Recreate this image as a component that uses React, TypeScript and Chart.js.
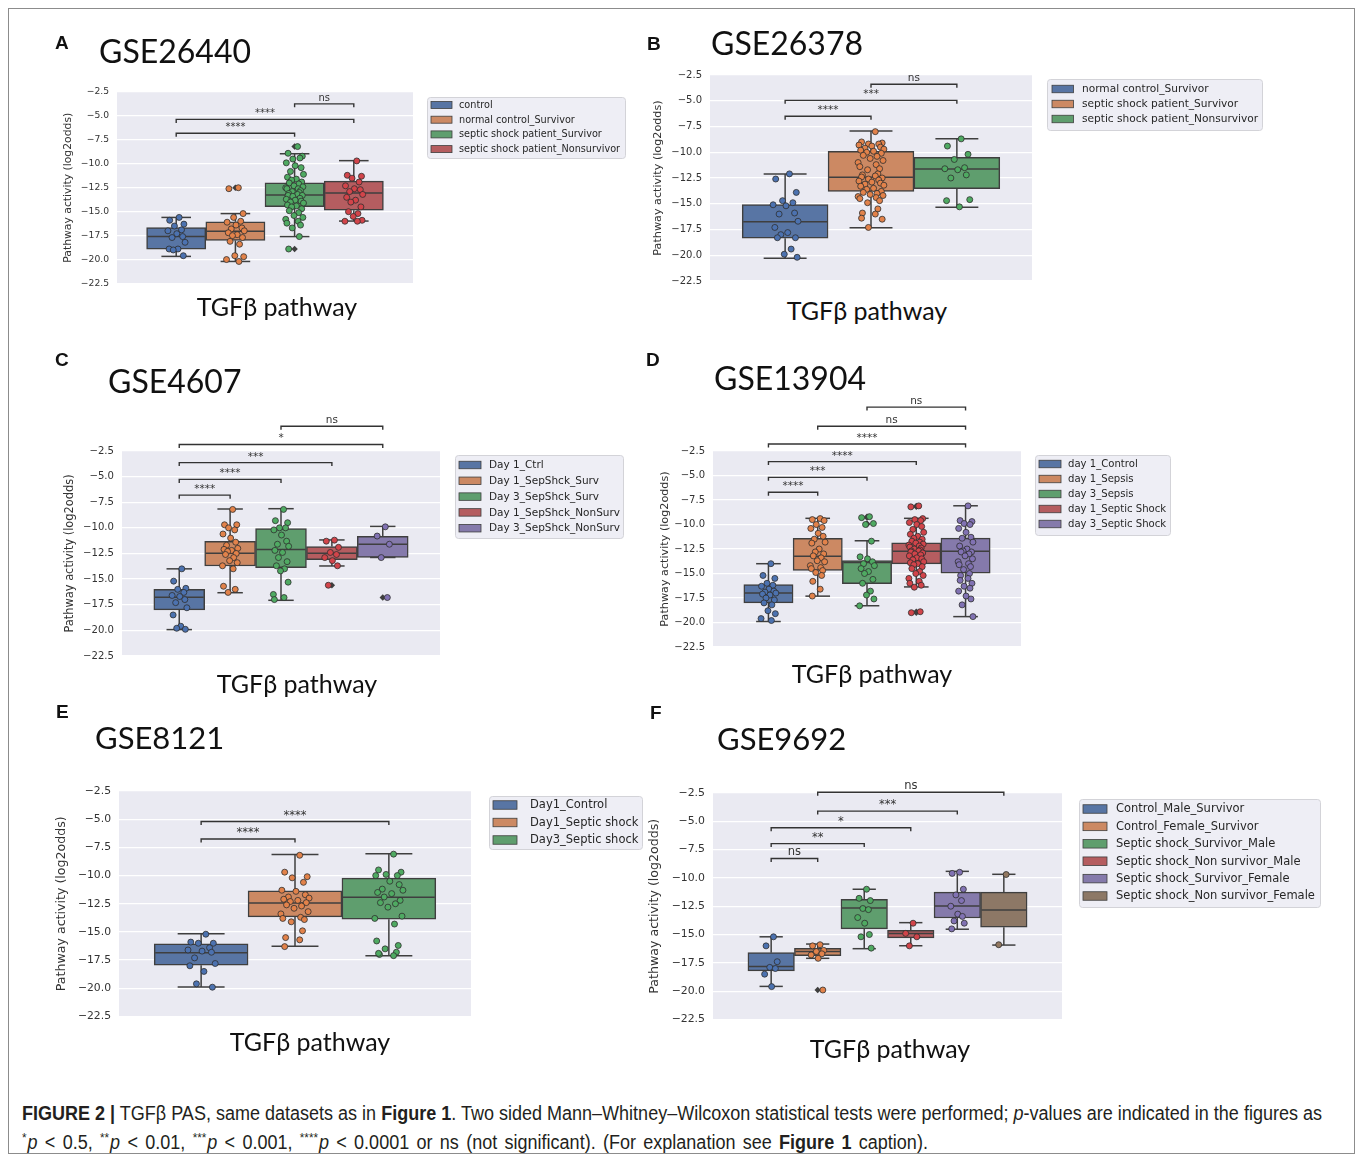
import React, { useEffect, useLayoutEffect, useRef } from "react";
import { Chart, registerables } from "chart.js";

Chart.register(...registerables);

const EDGE = "#3f3f3f";
const BOX_COLORS = ["#5875A4", "#CC8963", "#5F9E6E", "#B55D60", "#857AAB", "#8D7866"];
const POINT_COLORS = ["#4C72B0", "#E2824A", "#4FAA62", "#D2444A", "#8172B3", "#937860"];
const JITTER = [0.05, -0.11, 0.13, -0.03, 0.09, -0.14, 0.01, 0.11, -0.07, 0.15, -0.12, 0.03, -0.05, 0.12, -0.09, 0.07, -0.01, 0.14, -0.15, 0.06, -0.13, 0.1, -0.04, 0.08, -0.1];

const Y_MIN = -22.5;
const Y_MAX = -2.5;
const Y_STEP = 2.5;
const Y_TITLE = "Pathway activity (log2odds)";
const X_TITLE = "TGFβ pathway";

// ---------------- Panel A : GSE26440 ----------------
const A_GROUPS = ["control", "normal control_Survivor", "septic shock patient_Survivor", "septic shock patient_Nonsurvivor"];
const A_Q1 = [-18.91, -18.0, -14.47, -14.84];
const A_MED = [-17.6, -17.05, -13.26, -13.05];
const A_Q3 = [-16.67, -16.05, -11.98, -11.81];
const A_WLO = [-19.67, -20.2, -17.6, -15.98];
const A_WHI = [-15.6, -15.2, -8.95, -9.67];
const A_POINTS = [
  [-15.6, -15.9, -16.3, -16.5, -16.9, -17.0, -17.3, -17.6, -17.7, -18.2, -18.9, -18.9, -19.0, -19.6],
  [-12.5, -12.6, -15.2, -15.6, -16.0, -16.1, -16.4, -16.7, -16.8, -17.0, -17.2, -17.4, -17.5, -17.7, -18.1, -18.4, -19.6, -19.7, -20.0, -20.2],
  [-8.2, -8.9, -9.2, -9.5, -9.4, -9.9, -10.2, -10.4, -10.8, -11.1, -11.4, -11.6, -11.7, -11.9, -12.0, -12.1, -12.3, -12.4, -12.5, -12.6, -12.6, -12.8, -12.9, -13.0, -13.1, -13.2, -13.3, -13.3, -13.4, -13.6, -13.7, -13.8, -13.9, -14.0, -14.1, -14.3, -14.4, -14.5, -14.7, -14.9, -15.1, -15.4, -15.6, -15.8, -16.0, -16.2, -16.4, -16.7, -17.6, -18.9],
  [-9.7, -11.2, -11.3, -11.5, -11.9, -12.3, -12.6, -12.7, -12.9, -13.2, -13.5, -13.8, -14.0, -14.5, -15.0, -15.2, -15.5, -15.9, -16.0, -16.0],
];
const A_FLIERS = [[], [-12.5], [-8.2, -18.9], []];
const A_SIG: [number, number, number, string][] = [[0, 2, -6.81, "****"], [0, 3, -5.36, "****"], [2, 3, -3.74, "ns"]];

// ---------------- Panel B : GSE26378 ----------------
const B_GROUPS = ["normal control_Survivor", "septic shock patient_Survivor", "septic shock patient_Nonsurvivor"];
const B_Q1 = [-18.34, -13.8, -13.54];
const B_MED = [-16.74, -12.42, -11.62];
const B_Q3 = [-15.08, -9.92, -10.5];
const B_WLO = [-20.29, -17.32, -15.33];
const B_WHI = [-12.1, -7.94, -8.68];
const B_POINTS = [
  [-12.1, -12.6, -13.9, -14.7, -14.9, -15.1, -15.2, -15.9, -16.0, -16.7, -17.3, -17.8, -18.0, -18.3, -18.3, -19.4, -19.9, -20.2],
  [-8.0, -9.0, -9.1, -9.2, -9.2, -9.3, -9.4, -9.5, -9.6, -9.7, -9.8, -9.9, -10.0, -10.1, -10.3, -10.4, -10.6, -10.8, -11.0, -11.2, -11.4, -11.6, -11.7, -12.1, -12.2, -12.3, -12.4, -12.5, -12.6, -12.7, -12.8, -12.9, -13.0, -13.1, -13.2, -13.3, -13.5, -13.6, -13.8, -13.9, -14.0, -14.1, -14.2, -14.3, -14.4, -14.5, -14.7, -14.9, -15.5, -15.9, -16.0, -16.4, -16.5, -17.3],
  [-8.7, -9.4, -10.2, -10.7, -11.5, -11.6, -11.7, -12.2, -12.5, -14.6, -14.7, -15.3],
];
const B_FLIERS = [[], [], []];
const B_SIG: [number, number, number, string][] = [[0, 1, -6.5, "****"], [0, 2, -4.96, "***"], [1, 2, -3.4, "ns"]];

// ---------------- Panel C : GSE4607 ----------------
const C_GROUPS = ["Day 1_Ctrl", "Day 1_SepShck_Surv", "Day 3_SepShck_Surv", "Day 1_SepShck_NonSurv", "Day 3_SepShck_NonSurv"];
const C_Q1 = [-18.0, -13.72, -13.88, -13.11, -12.89];
const C_MED = [-16.78, -12.47, -12.11, -12.47, -11.6];
const C_Q3 = [-16.0, -11.31, -10.06, -11.83, -10.83];
const C_WLO = [-19.93, -16.33, -17.07, -13.72, -12.89];
const C_WHI = [-14.0, -8.16, -8.13, -11.18, -9.86];
const C_POINTS = [
  [-14.0, -15.2, -15.9, -16.0, -16.3, -16.6, -16.7, -17.0, -17.3, -17.8, -18.5, -19.6, -19.8, -19.9],
  [-8.2, -9.7, -9.7, -10.0, -10.2, -10.6, -11.0, -11.4, -11.7, -12.0, -12.1, -12.2, -12.3, -12.5, -12.6, -12.9, -13.2, -13.4, -13.7, -14.0, -15.7, -16.0, -16.3],
  [-8.2, -9.3, -9.5, -10.0, -10.0, -10.2, -10.7, -11.3, -11.6, -11.8, -12.2, -12.4, -12.9, -13.3, -13.7, -14.0, -14.2, -15.3, -16.5, -16.8, -17.0],
  [-11.2, -11.3, -11.9, -12.4, -12.6, -12.9, -13.2, -13.7, -15.6],
  [-9.9, -10.8, -11.6, -12.9, -16.8],
];
const C_FLIERS = [[], [], [], [-15.6], [-16.8]];
const C_SIG: [number, number, number, string][] = [[0, 1, -6.81, "****"], [0, 2, -5.27, "****"], [0, 3, -3.63, "***"], [0, 4, -1.86, "*"], [2, 4, -0.09, "ns"]];

// ---------------- Panel D : GSE13904 ----------------
const D_GROUPS = ["day 1_Control", "day 1_Sepsis", "day 3_Sepsis", "day 1_Septic Shock", "day 3_Septic Shock"];
const D_Q1 = [-17.99, -14.69, -16.04, -14.02, -14.96];
const D_MED = [-16.98, -13.24, -13.88, -12.74, -12.74];
const D_Q3 = [-16.14, -11.42, -13.68, -11.86, -11.39];
const D_WLO = [-19.9, -17.31, -18.29, -16.37, -19.4];
const D_WHI = [-14.0, -9.37, -11.66, -9.37, -8.09];
const D_POINTS = [
  [-14.0, -15.2, -15.5, -16.0, -16.2, -16.3, -16.6, -16.8, -16.9, -17.0, -17.1, -17.2, -17.5, -17.7, -18.0, -18.2, -18.8, -19.1, -19.6, -19.8],
  [-9.4, -9.5, -9.6, -10.0, -10.3, -10.4, -10.9, -11.2, -11.5, -11.8, -11.9, -12.5, -12.8, -13.0, -13.2, -13.4, -13.7, -13.8, -14.2, -14.4, -14.5, -14.7, -14.9, -15.2, -15.8, -16.6, -17.3],
  [-9.2, -9.3, -9.9, -10.0, -11.7, -13.3, -13.5, -13.8, -14.0, -14.2, -14.5, -14.8, -15.0, -15.6, -16.0, -16.8, -17.2, -17.6, -18.3],
  [-8.1, -8.2, -9.4, -9.5, -9.6, -9.8, -10.0, -10.2, -10.5, -10.8, -11.0, -11.2, -11.4, -11.5, -11.7, -11.8, -11.9, -12.0, -12.1, -12.2, -12.3, -12.4, -12.5, -12.6, -12.7, -12.7, -12.8, -12.9, -13.0, -13.1, -13.2, -13.4, -13.5, -13.6, -13.8, -13.9, -14.0, -14.1, -14.3, -14.5, -14.8, -15.0, -15.2, -15.5, -15.8, -16.0, -16.2, -16.4, -18.9, -19.0],
  [-8.1, -9.6, -9.7, -9.9, -10.0, -10.4, -10.8, -11.3, -11.4, -11.8, -12.2, -12.5, -12.7, -12.8, -12.8, -13.0, -13.2, -13.5, -13.8, -14.0, -14.1, -14.3, -14.6, -15.0, -15.2, -15.5, -15.7, -16.0, -16.3, -16.5, -16.8, -17.3, -17.6, -18.2, -19.4],
];
const D_FLIERS = [[], [], [-9.2, -9.3, -9.9, -10.0], [-8.1, -8.2, -18.9, -19.0], []];
const D_SIG: [number, number, number, string][] = [[0, 1, -6.71, "****"], [0, 2, -5.19, "***"], [0, 3, -3.58, "****"], [0, 4, -1.79, "****"], [1, 4, 0.03, "ns"], [2, 4, 1.98, "ns"]];

// ---------------- Panel E : GSE8121 ----------------
const E_GROUPS = ["Day1_Control", "Day1_Septic shock", "Day3_Septic shock"];
const E_Q1 = [-17.95, -13.67, -13.87];
const E_MED = [-16.84, -12.44, -11.92];
const E_Q3 = [-16.06, -11.36, -10.23];
const E_WLO = [-19.88, -16.26, -17.1];
const E_WHI = [-15.15, -8.13, -8.07];
const E_POINTS = [
  [-15.2, -15.9, -16.0, -16.0, -16.4, -16.6, -16.7, -16.8, -17.3, -17.8, -18.0, -18.5, -19.6, -19.9],
  [-8.2, -9.7, -10.1, -10.2, -10.6, -11.3, -11.4, -11.7, -11.9, -12.0, -12.1, -12.2, -12.3, -12.4, -12.6, -12.7, -12.9, -13.2, -13.4, -13.7, -13.8, -13.9, -14.1, -14.9, -15.5, -15.7, -16.3],
  [-8.1, -9.5, -9.7, -9.9, -10.0, -10.0, -10.5, -10.8, -11.2, -11.3, -11.5, -11.6, -11.9, -12.2, -12.4, -12.5, -12.8, -13.6, -13.8, -14.3, -15.8, -16.2, -16.5, -16.8, -17.0, -17.1, -16.9],
];
const E_FLIERS = [[], [], []];
const E_SIG: [number, number, number, string][] = [[0, 1, -6.76, "****"], [0, 2, -5.21, "****"]];

// ---------------- Panel F : GSE9692 ----------------
const F_GROUPS = ["Control_Male_Survivor", "Control_Female_Survivor", "Septic shock_Survivor_Male", "Septic shock_Non survivor_Male", "Septic shock_Survivor_Female", "Septic shock_Non survivor_Female"];
const F_Q1 = [-18.21, -16.86, -14.5, -15.29, -13.54, -14.35];
const F_MED = [-17.83, -16.5, -12.66, -14.91, -12.49, -12.84];
const F_Q3 = [-16.6, -16.22, -11.9, -14.62, -11.26, -11.26];
const F_WLO = [-19.58, -17.1, -16.25, -15.99, -14.53, -15.93];
const F_WHI = [-15.2, -15.84, -11.0, -13.95, -9.42, -9.68];
const F_POINTS = [
  [-15.2, -16.0, -17.4, -17.9, -18.0, -18.5, -19.6],
  [-15.9, -16.0, -16.4, -16.5, -16.7, -16.8, -17.1, -19.9],
  [-11.0, -11.8, -12.0, -12.7, -12.8, -13.5, -14.0, -15.0, -15.2, -16.2],
  [-14.0, -14.9, -15.2, -16.0],
  [-9.5, -9.6, -11.0, -11.5, -12.0, -12.5, -13.2, -13.4, -13.8, -14.0, -14.5],
  [-9.7, -15.9],
];
const F_FLIERS = [[], [-19.9], [], [], [], []];
const F_SIG: [number, number, number, string][] = [[0, 1, -8.28, "ns"], [0, 2, -6.97, "**"], [0, 3, -5.57, "*"], [1, 4, -4.1, "***"], [1, 5, -2.44, "ns"]];

type Rect = { l: number; t: number; r: number; b: number };
type Legend = Rect & { row0: number; step: number; patchX: number; patchW: number; patchH: number; textX: number; size: number };
type Panel = {
  letter: string; letterX: number; letterY: number;
  gse: string; gseX: number; gseCap: number; gseSize: number;
  xlabCx: number; xlabCap: number;
  groups: string[]; q1: number[]; med: number[]; q3: number[]; wlo: number[]; whi: number[];
  points: number[][]; fliers: number[][]; sig: [number, number, number, string][];
  plot: Rect; yTitleX: number; tickSize: number; titleSize: number; sigSize: number; legend: Legend;
};

const PANELS: Panel[] = [
  {
    letter: "A", letterX: 55, letterY: 35, gse: "GSE26440", gseX: 99, gseCap: 40, gseSize: 32, xlabCx: 277, xlabCap: 298,
    groups: A_GROUPS, q1: A_Q1, med: A_MED, q3: A_Q3, wlo: A_WLO, whi: A_WHI, points: A_POINTS, fliers: A_FLIERS, sig: A_SIG,
    plot: { l: 117, t: 92, r: 413, b: 285 }, yTitleX: 68, tickSize: 9.2, titleSize: 10.8, sigSize: 10,
    legend: { l: 427, t: 97, r: 625, b: 158, row0: 105, step: 14.7, patchX: 431, patchW: 21, patchH: 7, textX: 459, size: 9.7 },
  },
  {
    letter: "B", letterX: 647, letterY: 36, gse: "GSE26378", gseX: 711, gseCap: 32, gseSize: 32, xlabCx: 867, xlabCap: 302,
    groups: B_GROUPS, q1: B_Q1, med: B_MED, q3: B_Q3, wlo: B_WLO, whi: B_WHI, points: B_POINTS, fliers: B_FLIERS, sig: B_SIG,
    plot: { l: 710, t: 75, r: 1032, b: 283 }, yTitleX: 658, tickSize: 10, titleSize: 11.2, sigSize: 10.5,
    legend: { l: 1047, t: 79, r: 1262, b: 130, row0: 89, step: 15, patchX: 1052, patchW: 21.5, patchH: 7.5, textX: 1082, size: 10.6 },
  },
  {
    letter: "C", letterX: 55, letterY: 352, gse: "GSE4607", gseX: 108, gseCap: 370, gseSize: 32, xlabCx: 297, xlabCap: 675,
    groups: C_GROUPS, q1: C_Q1, med: C_MED, q3: C_Q3, wlo: C_WLO, whi: C_WHI, points: C_POINTS, fliers: C_FLIERS, sig: C_SIG,
    plot: { l: 122, t: 451, r: 440, b: 658 }, yTitleX: 70, tickSize: 10.1, titleSize: 11.4, sigSize: 10.5,
    legend: { l: 455, t: 455, r: 623, b: 538, row0: 465, step: 15.8, patchX: 459, patchW: 22, patchH: 7.5, textX: 489, size: 10.5 },
  },
  {
    letter: "D", letterX: 646, letterY: 352, gse: "GSE13904", gseX: 714, gseCap: 367, gseSize: 32, xlabCx: 872, xlabCap: 665,
    groups: D_GROUPS, q1: D_Q1, med: D_MED, q3: D_Q3, wlo: D_WLO, whi: D_WHI, points: D_POINTS, fliers: D_FLIERS, sig: D_SIG,
    plot: { l: 713, t: 451, r: 1021, b: 649 }, yTitleX: 665, tickSize: 10, titleSize: 11.2, sigSize: 10.5,
    legend: { l: 1035, t: 455, r: 1170, b: 535, row0: 464, step: 15, patchX: 1039, patchW: 22, patchH: 7.5, textX: 1068, size: 10.1 },
  },
  {
    letter: "E", letterX: 56, letterY: 704, gse: "GSE8121", gseX: 95, gseCap: 727, gseSize: 31, xlabCx: 310, xlabCap: 1033,
    groups: E_GROUPS, q1: E_Q1, med: E_MED, q3: E_Q3, wlo: E_WLO, whi: E_WHI, points: E_POINTS, fliers: E_FLIERS, sig: E_SIG,
    plot: { l: 119, t: 791, r: 471, b: 1019 }, yTitleX: 62, tickSize: 10.8, titleSize: 12.6, sigSize: 11.5,
    legend: { l: 489, t: 796, r: 642, b: 849, row0: 805, step: 17.5, patchX: 493, patchW: 24, patchH: 8.5, textX: 530, size: 11.5 },
  },
  {
    letter: "F", letterX: 650, letterY: 705, gse: "GSE9692", gseX: 717, gseCap: 728, gseSize: 31, xlabCx: 890, xlabCap: 1040,
    groups: F_GROUPS, q1: F_Q1, med: F_MED, q3: F_Q3, wlo: F_WLO, whi: F_WHI, points: F_POINTS, fliers: F_FLIERS, sig: F_SIG,
    plot: { l: 713, t: 793, r: 1062, b: 1022 }, yTitleX: 655, tickSize: 10.9, titleSize: 12.6, sigSize: 11.5,
    legend: { l: 1079, t: 799, r: 1320, b: 907, row0: 809, step: 17.4, patchX: 1083, patchW: 24, patchH: 8.5, textX: 1116, size: 11.5 },
  },
];

function fmt(v: number): string {
  return Number(v).toFixed(1).replace("-", "\u2212");
}

function roundRect(ctx: CanvasRenderingContext2D, x: number, y: number, w: number, h: number, r: number) {
  ctx.beginPath();
  ctx.moveTo(x + r, y);
  ctx.lineTo(x + w - r, y);
  ctx.quadraticCurveTo(x + w, y, x + w, y + r);
  ctx.lineTo(x + w, y + h - r);
  ctx.quadraticCurveTo(x + w, y + h, x + w - r, y + h);
  ctx.lineTo(x + r, y + h);
  ctx.quadraticCurveTo(x, y + h, x, y + h - r);
  ctx.lineTo(x, y + r);
  ctx.quadraticCurveTo(x, y, x + r, y);
  ctx.closePath();
}

function PanelChart({ p }: { p: Panel }) {
  const ref = useRef<HTMLCanvasElement | null>(null);
  const cl = Math.round(p.yTitleX - p.titleSize * 0.6);
  const ct = p.plot.t - 90;
  const cr = p.legend.r + 6;
  const cb = p.plot.b + 12;
  const W = cr - cl;
  const H = cb - ct;

  useEffect(() => {
    if (!ref.current) return;
    const n = p.groups.length;
    const bw = 0.8 / n;
    const center = (i: number) => -0.4 + bw * (i + 0.5);
    const boxPx = (0.8 * (p.plot.r - p.plot.l)) / n;

    const datasets: any[] = [];
    p.groups.forEach((g, i) => {
      datasets.push({
        type: "scatter",
        label: g + " points",
        data: p.points[i].map((v, k) => ({ x: center(i) + JITTER[k % JITTER.length] * bw, y: v })),
        backgroundColor: POINT_COLORS[i],
        borderColor: "#2e2e2e",
        borderWidth: 0.8,
        pointRadius: 3,
        xAxisID: "x",
        yAxisID: "y",
        order: 0,
      });
    });
    const flierData: any[] = [];
    p.fliers.forEach((arr, i) => arr.forEach((v) => flierData.push({ x: center(i), y: v })));
    datasets.push({
      type: "scatter",
      label: "fliers",
      data: flierData,
      pointStyle: "rectRot",
      pointRadius: 3.2,
      backgroundColor: EDGE,
      borderWidth: 0,
      xAxisID: "x",
      yAxisID: "y",
      order: 1,
    });
    datasets.push({
      type: "bar",
      label: "boxes",
      data: p.groups.map((g, i) => ({ x: center(i), y: [p.q1[i], p.q3[i]] })),
      backgroundColor: BOX_COLORS.slice(0, n),
      borderColor: EDGE,
      borderWidth: 1.5,
      borderSkipped: false,
      barThickness: boxPx,
      grouped: false,
      xAxisID: "x",
      yAxisID: "y",
      order: 2,
    });

    const deco = {
      id: "deco",
      beforeDraw(chart: any) {
        const { ctx, chartArea: a } = chart;
        ctx.save();
        ctx.fillStyle = "#EAEAF2";
        ctx.fillRect(a.left, a.top, a.right - a.left, a.bottom - a.top);
        ctx.restore();
      },
      afterDatasetDraw(chart: any, args: any) {
        if (args.meta.type !== "bar") return;
        const ys = chart.scales.y;
        const ctx: CanvasRenderingContext2D = chart.ctx;
        const line = (x1: number, y1: number, x2: number, y2: number) => {
          ctx.beginPath();
          ctx.moveTo(x1, y1);
          ctx.lineTo(x2, y2);
          ctx.stroke();
        };
        ctx.save();
        ctx.strokeStyle = EDGE;
        ctx.lineWidth = 1.5;
        args.meta.data.forEach((el: any, i: number) => {
          const x = el.x;
          const w = el.width;
          const pm = ys.getPixelForValue(p.med[i]);
          line(x - w / 2 + 1, pm, x + w / 2 - 1, pm);
          const pq3 = ys.getPixelForValue(p.q3[i]);
          const phi = ys.getPixelForValue(p.whi[i]);
          const pq1 = ys.getPixelForValue(p.q1[i]);
          const plo = ys.getPixelForValue(p.wlo[i]);
          line(x, pq3, x, phi);
          line(x - w / 4, phi, x + w / 4, phi);
          line(x, pq1, x, plo);
          line(x - w / 4, plo, x + w / 4, plo);
        });
        ctx.restore();
      },
      afterDraw(chart: any) {
        const ctx: CanvasRenderingContext2D = chart.ctx;
        const xs = chart.scales.x;
        const ys = chart.scales.y;
        ctx.save();
        ctx.strokeStyle = "#333333";
        ctx.fillStyle = "#333333";
        ctx.lineWidth = 1.4;
        ctx.font = `${p.sigSize}px "DejaVu Sans"`;
        ctx.textAlign = "center";
        ctx.textBaseline = "alphabetic";
        p.sig.forEach(([a, b, yv, label]) => {
          const x1 = xs.getPixelForValue(center(a));
          const x2 = xs.getPixelForValue(center(b));
          const py = ys.getPixelForValue(yv);
          ctx.beginPath();
          ctx.moveTo(x1, py + 3.5);
          ctx.lineTo(x1, py);
          ctx.lineTo(x2, py);
          ctx.lineTo(x2, py + 3.5);
          ctx.stroke();
          ctx.fillText(label, (x1 + x2) / 2, py - 3);
        });
        const L = p.legend;
        const lx = L.l - cl;
        const ly = L.t - ct;
        roundRect(ctx, lx + 0.5, ly + 0.5, L.r - L.l, L.b - L.t, 3);
        ctx.fillStyle = "rgba(234,234,242,0.8)";
        ctx.fill();
        ctx.strokeStyle = "#d3d3d8";
        ctx.lineWidth = 1;
        ctx.stroke();
        ctx.font = `${L.size}px "DejaVu Sans"`;
        ctx.textAlign = "left";
        ctx.textBaseline = "middle";
        p.groups.forEach((g, i) => {
          const ry = L.row0 + i * L.step - ct;
          ctx.fillStyle = BOX_COLORS[i];
          ctx.fillRect(L.patchX - cl, ry - L.patchH / 2, L.patchW, L.patchH);
          ctx.strokeStyle = EDGE;
          ctx.lineWidth = 0.8;
          ctx.strokeRect(L.patchX - cl, ry - L.patchH / 2, L.patchW, L.patchH);
          ctx.fillStyle = "#262626";
          ctx.fillText(g, L.textX - cl, ry + 0.5);
        });
        ctx.restore();
      },
    };

    const yWidth = p.plot.l - cl;
    const chart = new Chart(ref.current, {
      type: "bar",
      data: { datasets },
      options: {
        animation: false,
        responsive: false,
        events: [],
        layout: { padding: { left: 0, top: p.plot.t - ct, right: cr - p.plot.r, bottom: cb - p.plot.b } },
        plugins: { legend: { display: false }, tooltip: { enabled: false } },
        scales: {
          x: { type: "linear", display: false, min: -0.5, max: 0.5, offset: false, grid: { offset: false } },
          y: {
            type: "linear",
            min: Y_MIN,
            max: Y_MAX,
            afterFit: (s: any) => {
              s.width = yWidth;
            },
            border: { display: false },
            grid: { color: "#ffffff", lineWidth: 1.3, drawTicks: false },
            ticks: {
              stepSize: Y_STEP,
              autoSkip: false,
              padding: 8,
              color: "#333333",
              font: { family: "DejaVu Sans", size: p.tickSize },
              callback: (v: any) => fmt(v),
            },
            title: {
              display: true,
              text: Y_TITLE,
              color: "#333333",
              padding: 0,
              font: { family: "DejaVu Sans", size: p.titleSize },
            },
          },
        },
      } as any,
      plugins: [deco as any],
    });
    return () => chart.destroy();
  }, []);

  return (
    <>
      <canvas ref={ref} width={W} height={H} style={{ position: "absolute", left: cl, top: ct, width: W, height: H }} />
      <div style={{ position: "absolute", left: p.letterX, top: p.letterY - 2.2, font: "bold 19px 'Liberation Sans', Arial, sans-serif", lineHeight: 1, color: "#111" }}>{p.letter}</div>
      <div style={{ position: "absolute", left: p.gseX, top: p.gseCap - 0.17 * p.gseSize, fontFamily: "Lato, 'Open Sans', sans-serif", fontSize: p.gseSize, lineHeight: 1, color: "#111", whiteSpace: "nowrap" }}>{p.gse}</div>
      <div style={{ position: "absolute", left: p.xlabCx, top: p.xlabCap - 0.17 * 25, transform: "translateX(-50%)", fontFamily: "Lato, 'Open Sans', sans-serif", fontSize: 25, lineHeight: 1, color: "#111", whiteSpace: "nowrap" }}>{X_TITLE}</div>
    </>
  );
}

export default function App() {
  const capRef = useRef<HTMLDivElement | null>(null);
  const line1Ref = useRef<HTMLSpanElement | null>(null);
  useLayoutEffect(() => {
    const box = capRef.current;
    const l1 = line1Ref.current;
    if (!box || !l1) return;
    const w = l1.getBoundingClientRect().width;
    if (w > 0) {
      box.style.transform = `scaleX(${1300 / w})`;
    }
  }, []);
  const capFont = "'Liberation Sans', Arial, sans-serif";
  const sup = { fontSize: "0.65em", verticalAlign: "0.55em", marginRight: 1 } as const;
  return (
    <div style={{ position: "absolute", left: 0, top: 0, width: 1358, height: 1157, background: "#ffffff", overflow: "hidden" }}>
      <div style={{ position: "absolute", left: 8, top: 8, width: 1347, height: 1146, border: "1px solid #8c8c8c", boxSizing: "border-box" }} />
      {PANELS.map((p) => (
        <PanelChart key={p.letter} p={p} />
      ))}
      <div
        ref={capRef}
        style={{ position: "absolute", left: 22, top: 1101, fontFamily: capFont, fontSize: 19.5, lineHeight: "25px", color: "#231f20", whiteSpace: "nowrap", transformOrigin: "0 0" }}
      >
        <div>
          <span ref={line1Ref}>
            <b>FIGURE 2 |</b> TGFβ PAS, same datasets as in <b>Figure 1</b>. Two sided Mann–Whitney–Wilcoxon statistical tests were performed; <i>p</i>-values are indicated in the figures as
          </span>
        </div>
        <div style={{ wordSpacing: "2.5px" }}>
          <span style={sup}>*</span><i>p</i> &lt; 0.5, <span style={sup}>**</span><i>p</i> &lt; 0.01, <span style={sup}>***</span><i>p</i> &lt; 0.001, <span style={sup}>****</span><i>p</i> &lt; 0.0001 or ns (not significant). (For explanation see <b>Figure 1</b> caption).
        </div>
      </div>
    </div>
  );
}
